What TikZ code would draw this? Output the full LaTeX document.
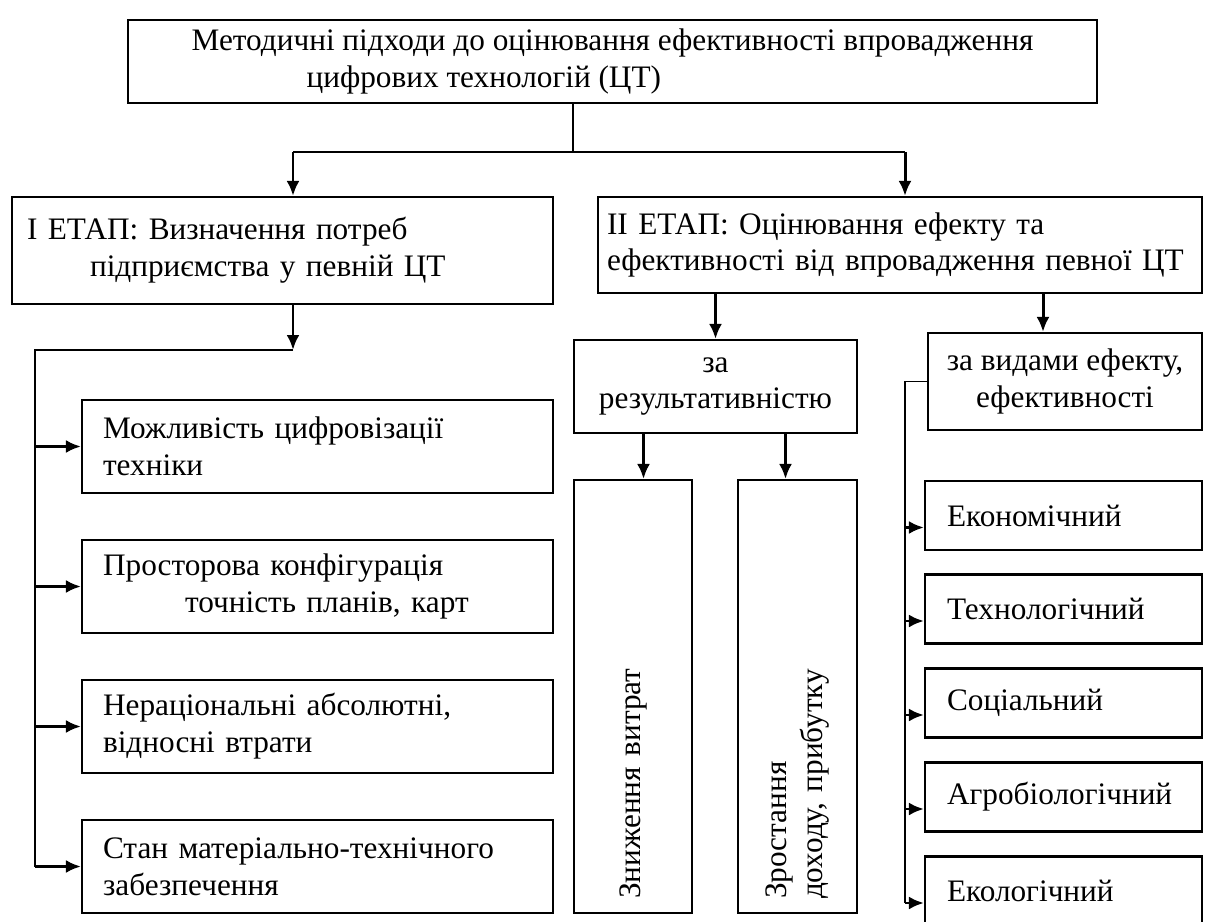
\documentclass[tikz,border=0pt]{standalone}
\usepackage{fontspec}
\setmainfont{Liberation Serif}
\usetikzlibrary{calc, arrows.meta}
\usetikzlibrary{positioning}

\begin{document}
\begin{tikzpicture}[x=0.02cm, y=-0.02cm,
        box/.style={draw, line width=1.2pt, inner sep=0pt, font=\fontsize{17.8}{21}\selectfont},
        leftbox/.style={box, align=left, text width=8.58cm, inner xsep=0.42cm, minimum height=1.86cm},
        rightbox/.style={box, align=left, text width=4.66cm, inner xsep=0.44cm, minimum height=1.38cm},
        upbox/.style={box, rotate=90, align=left, text width=8.1cm, inner xsep=0.28cm, minimum height=2.37cm},
        arr/.style={-{Latex[length=0.3cm, width=0.26cm]}, line width=1.7pt},
        conn/.style={line width=1.1pt}]

        \useasboundingbox (0,0) rectangle (1208,922);

        % main box
        \node[box, align=left, minimum width=19.38cm, minimum height=1.66cm] (top) at (612.5,61.5)
            {Методичні підходи до оцінювання ефективності впровадження\\ \hspace*{2.3cm}цифрових технологій (ЦТ)};

        % stages
        \node[box, align=left, text width=10.22cm, inner xsep=0.3cm, minimum height=2.14cm] (st1) at (282.5,250.5)
            {І ЕТАП: Визначення потреб\\ \hspace*{1.26cm}підприємства у певній ЦТ};
        \node[box, align=left, text width=11.72cm, inner xsep=0.18cm, minimum height=1.92cm] (st2) at (900,245)
            {ІІ ЕТАП: Оцінювання ефекту та\\ ефективності від впровадження певної ЦТ};

        % main box to stages
        \coordinate (fork) at (573,152);
        \coordinate (c1) at (293,152);
        \coordinate (c2) at (905,152);
        \draw[conn] (top.south -| fork) -- (fork);
        \draw[conn] (c1) -- (c2);
        \draw[arr] (c1) -- (c1 |- st1.north);
        \draw[arr] (c2) -- (c2 |- st2.north);

        % needs of the enterprise
        \node[leftbox] (l1) at (317.5,446.5) {Можливість цифровізації\\ техніки};
        \node[leftbox] (l2) at (317.5,586.5) {Просторова конфігурація\\ \hspace*{1.64cm}точність планів, карт};
        \node[leftbox] (l3) at (317.5,726.5) {Нераціональні абсолютні,\\ відносні втрати};
        \node[leftbox] (l4) at (317.5,866.5) {Стан матеріально-технічного\\ забезпечення};

        % stage I to needs
        \coordinate (lbar) at (35,350);
        \draw[arr] (st1.south -| c1) -- (c1 |- lbar);
        \draw[conn] (c1 |- lbar) -- (lbar) -- (lbar |- l4.west);
        \foreach \i in {1,...,4}
            \draw[arr] (lbar |- l\i.west) -- (l\i.west);

        % criteria of stage II
        \node[box, align=center, minimum width=5.66cm, minimum height=1.86cm] (res) at (715.5,386.5)
            {за\\ результативністю};
        \node[box, align=center, minimum width=5.48cm, minimum height=1.94cm] (kind) at (1065,381.5)
            {за видами ефекту,\\ ефективності};

        % stage II to criteria
        \coordinate (d1) at (1043,0);
        \draw[arr] (st2.south -| res.north) -- (res.north);
        \draw[arr] (st2.south -| d1) -- (d1 |- kind.north);

        % results
        \node[upbox] (cost) at (633,696.5) {Зниження витрат};
        \node[upbox] (income) at (797.5,696.5) {Зростання\\ доходу, прибутку};

        % criterion to results
        \draw[arr] ($(res.south)+(-72,0)$) coordinate (a1) -- (a1 |- cost.east);
        \draw[arr] ($(res.south)+(70,0)$) coordinate (a2) -- (a2 |- income.east);

        % kinds of effect
        \node[rightbox] (r1) at (1063.5,515.5) {Економічний};
        \node[rightbox] (r2) at (1063.5,609) {Технологічний};
        \node[rightbox] (r3) at (1063.5,703) {Соціальний};
        \node[rightbox] (r4) at (1063.5,797) {Агробіологічний};
        \node[rightbox] (r5) at (1063.5,891) {Екологічний};

        % criterion to kinds
        \coordinate (rbar) at (905,0);
        \draw[conn] (kind.west) -- (kind.west -| rbar) -- ($(rbar |- r5.west)+(0,12)$);
        \foreach \i in {1,...,5}
            \draw[arr] ($(rbar |- r\i.west)+(0,12)$) -- ($(r\i.west)+(0,12)$);

    \end{tikzpicture}
\end{document}
